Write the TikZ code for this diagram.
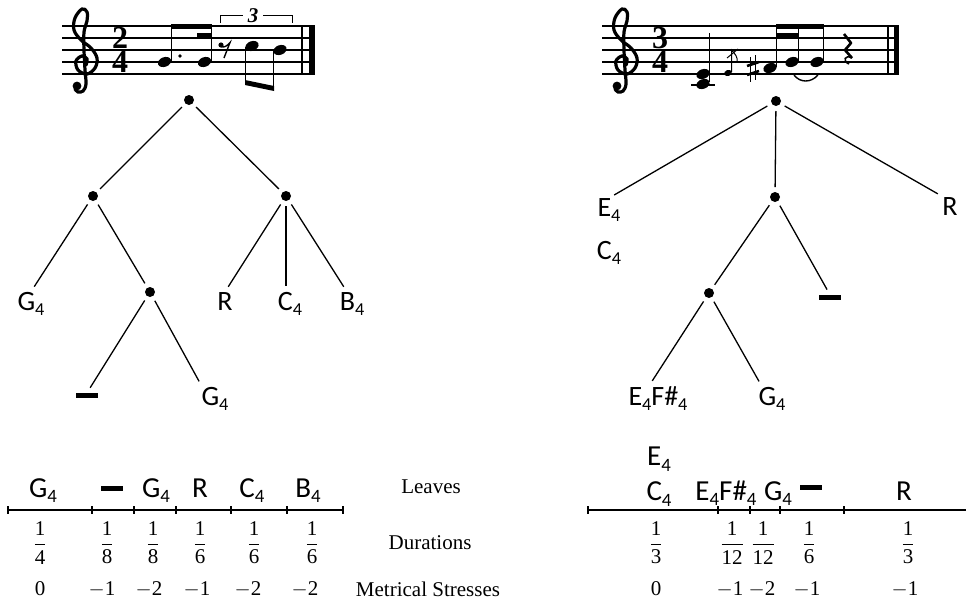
\documentclass[tikz,border=0pt]{standalone}
\usepackage{fontspec}
\usepackage{amsmath}
\setmainfont{Liberation Serif}
\newfontfamily\notefont{Carlito}
\newcommand\treefont{\notefont\fontsize{28}{43}\selectfont}
\newcommand\rowfont{\notefont\fontsize{29}{35}\selectfont}
\newcommand\capfont{\fontsize{21}{25}\selectfont}
\newcommand\pn[2]{#1\raisebox{-.2em}{\scalebox{.65}{#2}}}
\newcommand\hold{\rule{22pt}{5pt}}
\newcommand\fr[2]{$\genfrac{}{}{1.3pt}{0}{\text{#1}}{\text{#2}}$}
\newcommand\nh[2]{\fill[shift={(#1,#2)}, rotate=20] (0,0) ellipse (6.8pt and 4.8pt);}
\newcommand\gclef[1]{%
  \begin{scope}[shift={#1}]
    \draw[line width=3.2pt, line cap=round] plot[smooth, tension=.6] coordinates {(3,3) (4,-3) (-1,-6) (-7,-1) (-5,8) (4,12) (12,6) (14,-4) (8,-14) (-2,-22) (-9,-32) (-8,-44) (-1,-53) (4,-50) (4,-41) (1,-30) (1,-12) (2,8) (3,22) (0,29) (-5,30) (-8,27)};
    \fill (-6,24) circle (4.4pt);
  \end{scope}}

\begin{document}
\begin{tikzpicture}[x=1pt, y=-1pt,
    dot/.style={circle, fill, inner sep=0pt, minimum size=10pt, outer sep=5pt},
    leaf/.style={font=\treefont, inner sep=0pt, anchor=base},
    rowtxt/.style={font=\rowfont, inner sep=0pt, anchor=base},
    captxt/.style={font=\capfont, inner sep=0pt},
    meter/.style={font=\bfseries\fontsize{32}{24.5}\selectfont, inner sep=0pt, align=center},
    branch/.style={line width=1.3pt, shorten >=6pt},
    staffline/.style={line width=1.1pt},
    stem/.style={line width=1.2pt}
    ]
    \useasboundingbox (0,0) rectangle (966,603);

    % left score
    \foreach \y in {26,38,50,62,74} \draw[staffline] (62,\y) -- (315,\y);
    \gclef{(83,62)}
    \node[meter] (lmeter) at (120,50) {2\\4};
    \nh{164.5}{62} \nh{204.5}{62}
    \draw[stem] (171.3,61) -- (171.3,26) (211.3,61) -- (211.3,26);
    \fill (170.7,24) rectangle (211.9,29);
    \fill (197,32.5) rectangle (211.9,37);
    \fill (180,56) circle (1.8pt);
    \fill (221,45) circle (2.6pt);
    \draw[line width=1.4pt] (221,46.5) .. controls (224,48) and (227,46) .. (230,42.5) -- (224,58);
    \draw[line width=1pt] (220,23) -- (220,15) -- (243,15) (263,15) -- (292,15) -- (292,23);
    \node[font=\bfseries\itshape\fontsize{21}{21}\selectfont, inner sep=0pt] (trip) at (253,16) {3};
    \nh{252}{46} \nh{280}{50}
    \draw[stem] (245.6,47) -- (245.6,83) (273.4,51) -- (273.4,89);
    \fill (245,80) -- (274,86) -- (274,91) -- (245,85) -- cycle;
    \draw[line width=1.2pt] (302,26) -- (302,74);
    \fill (309,26) rectangle (315,74);

    % right score
    \foreach \y in {26,38,50,62,74} \draw[staffline] (602,\y) -- (899,\y);
    \gclef{(623,62)}
    \node[meter] (rmeter) at (660,50) {3\\4};
    \draw[staffline] (691,85) -- (715,85);
    \nh{703}{74} \nh{703}{84}
    \draw[stem] (709.4,82) -- (709.4,33);
    \fill[shift={(728,73)}, rotate=20] (0,0) ellipse (4pt and 3pt);
    \draw[line width=1pt] (731.6,72) -- (731.6,50) .. controls (735,54) and (738,57) .. (737,62);
    \draw[line width=1pt] (727,58) -- (738,49);
    \draw[line width=1pt] (750.5,57) -- (750.5,82) (755.5,55) -- (755.5,80);
    \draw[line width=2.6pt] (747,66) -- (759,62) (747,75) -- (759,71);
    \nh{770}{68} \nh{792}{62} \nh{817}{62}
    \draw[stem] (776.4,67) -- (776.4,26) (798.4,61) -- (798.4,26) (823.4,61) -- (823.4,26);
    \fill (775.8,24) rectangle (824,29);
    \fill (775.8,32.5) rectangle (799,37);
    \draw[line width=1.4pt] (794,75) .. controls (800,83) and (811,83) .. (818,75);
    \draw[line width=2.6pt, line join=round] (844,34) -- (851,43) -- (845,50) -- (852,58);
    \draw[line width=1.6pt] (852,58) .. controls (845,54) and (842,61) .. (849,64);
    \draw[line width=1.2pt] (888,26) -- (888,74);
    \fill (894,26) rectangle (899,74);

    % left tree
    \node[dot] (lroot) at (189,100) {};
    \node[dot] (lleft) at (93,196) {};
    \node[dot] (lright) at (286,196) {};
    \node[dot] (linner) at (150,292) {};
    \node[leaf] (lg1) at (31,310) {\pn{G}{4}};
    \node[leaf] (lhold) at (87,398) {\hold};
    \node[leaf] (lg2) at (215,405) {\pn{G}{4}};
    \node[leaf] (lrest) at (225,310) {R};
    \node[leaf] (lc) at (290,310) {\pn{C}{4}};
    \node[leaf] (lb) at (352,310) {\pn{B}{4}};
    \draw[line width=1.3pt] (lroot) -- (lleft) (lroot) -- (lright) (lleft) -- (linner);
    \draw[branch] (lleft) -- (lg1.north);
    \draw[branch] (linner) -- (lhold.north);
    \draw[branch] (linner) -- ([xshift=-13pt]lg2.north);
    \draw[branch] (lright) -- (lrest.north);
    \draw[branch] (lright) -- ([xshift=-4pt]lc.north);
    \draw[branch] (lright) -- ([xshift=-5pt]lb.north);

    % right tree
    \node[dot] (rroot) at (776,101) {};
    \node[dot] (rmid) at (775,197) {};
    \node[dot] (rinner) at (709,293) {};
    \node[leaf, anchor=north, align=center] (rec) at (609,198) {\pn{E}{4}\\\pn{C}{4}};
    \node[leaf] (rrest) at (950,215) {R};
    \node[leaf] (rhold) at (830,300) {\hold};
    \node[leaf] (ref) at (658,405) {\pn{E}{4}\pn{F\#}{4}};
    \node[leaf] (rg) at (772,405) {\pn{G}{4}};
    \draw[line width=1.3pt] (rroot) -- (rmid) (rmid) -- (rinner);
    \draw[branch] (rroot) -- (rec.north);
    \draw[branch] (rroot) -- ([xshift=-7pt]rrest.north);
    \draw[branch] (rmid) -- (rhold.north);
    \draw[branch] (rinner) -- ([xshift=-9pt]ref.north);
    \draw[branch] (rinner) -- ([xshift=-10pt]rg.north);

    % left table
    \draw[line width=1.2pt] (8,510) -- (343,510);
    \foreach \x in {8,92,134,176,231,287,343} \draw[line width=1.2pt] (\x,506) -- (\x,514);
    \foreach \x/\t [count=\i] in {43/\pn{G}{4},156/\pn{G}{4},200/R,252/\pn{C}{4},308/\pn{B}{4}}
      \node[rowtxt] (lv\i) at (\x,497) {\t};
    \node[rowtxt] (lvhold) at (112,491) {\hold};
    \foreach \x/\d [count=\i] in {40/4,107/8,153/8,200/6,254/6,312/6}
      \node[captxt] (ld\i) at (\x,543) {\fr{1}{\d}};
    \foreach \x/\s [count=\i] in {40/0,102/$-$1,149/$-$2,197/$-$1,248/$-$2,305/$-$2}
      \node[captxt] (ls\i) at (\x,589) {\s};

    % captions
    \node[captxt] (leaves) at (431,487) {Leaves};
    \node[captxt] (durs) at (430,543) {Durations};
    \node[captxt] (stress) at (428,589) {Metrical Stresses};

    % right table
    \draw[line width=1.2pt] (588,510) -- (966,510);
    \foreach \x in {588,718,750,780,844} \draw[line width=1.2pt] (\x,506) -- (\x,514);
    \node[rowtxt, anchor=north, align=center] (rv1) at (659,447) {\pn{E}{4}\\\pn{C}{4}};
    \foreach \x/\t [count=\i from 2] in {726/\pn{E}{4}\pn{F\#}{4},778/\pn{G}{4},904/R}
      \node[rowtxt] (rv\i) at (\x,500) {\t};
    \node[rowtxt] (rvhold) at (811,490) {\hold};
    \foreach \x/\d [count=\i] in {656/3,732/12,763/12,809/6,908/3}
      \node[captxt] (rd\i) at (\x,543) {\fr{1}{\d}};
    \foreach \x/\s [count=\i] in {656/0,730/$-$1,762/$-$2,807/$-$1,905/$-$1}
      \node[captxt] (rs\i) at (\x,589) {\s};
\end{tikzpicture}
\end{document}
